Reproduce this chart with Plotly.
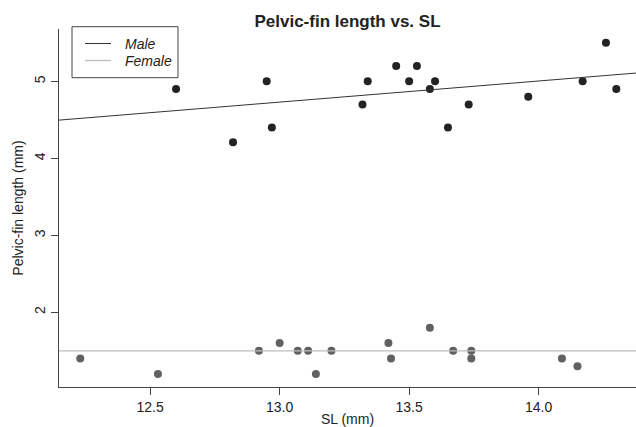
import numpy as np
import plotly.graph_objects as go

# ---- data ----
male_sl = [12.60, 12.82, 12.95, 12.97, 13.32, 13.34, 13.45, 13.50, 13.53,
           13.58, 13.60, 13.65, 13.73, 13.96, 14.17, 14.26, 14.30]
male_pfl = [4.9, 4.21, 5.0, 4.4, 4.7, 5.0, 5.2, 5.0, 5.2,
            4.9, 5.0, 4.4, 4.7, 4.8, 5.0, 5.5, 4.9]
female_sl = [12.23, 12.53, 12.92, 13.00, 13.07, 13.11, 13.14, 13.20,
             13.42, 13.43, 13.58, 13.67, 13.74, 13.74, 14.09, 14.15]
female_pfl = [1.4, 1.2, 1.5, 1.6, 1.5, 1.5, 1.2, 1.5,
              1.6, 1.4, 1.8, 1.5, 1.5, 1.4, 1.4, 1.3]
female_level = 1.5  # horizontal reference line for females (read)

legend_labels = ["Male", "Female"]
x_ticks = [12.5, 13.0, 13.5, 14.0]
x_tick_labels = ["12.5", "13.0", "13.5", "14.0"]
y_ticks = [2, 3, 4, 5]
y_tick_labels = ["2", "3", "4", "5"]
x_range = [12.148, 14.376]
y_range = [1.03, 5.68]

FONT = "Liberation Sans, Arial, Helvetica, sans-serif"
MALE_LINE = "#333333"
FEMALE_LINE = "#bdbdbd"

W, H = 636, 427
ML, MR, MT, MB = 59, 0, 29, 40
PW, PH = W - ML - MR, H - MT - MB


def px_x(p):
    return (p - ML) / PW


def px_y(p):
    return (H - MB - p) / PH


# male regression line (least squares fit of the male data)
slope, intercept = np.polyfit(male_sl, male_pfl, 1)
line_x = np.array(x_range)
male_line_y = intercept + slope * line_x
female_line_y = np.full_like(line_x, female_level)

fig = go.Figure()
fig.add_trace(go.Scatter(x=male_sl, y=male_pfl, mode="markers", showlegend=False,
                         marker=dict(color="#232323", size=8, line=dict(width=0))))
fig.add_trace(go.Scatter(x=female_sl, y=female_pfl, mode="markers", showlegend=False,
                         marker=dict(color="#616161", size=8, line=dict(width=0))))
fig.add_trace(go.Scatter(x=line_x, y=male_line_y, mode="lines", name=legend_labels[0],
                         showlegend=False, line=dict(color=MALE_LINE, width=1)))
fig.add_trace(go.Scatter(x=line_x, y=female_line_y, mode="lines", name=legend_labels[1],
                         showlegend=False, line=dict(color=FEMALE_LINE, width=1.3)))

axis_common = dict(showgrid=False, zeroline=False, showline=True, linecolor="#444444",
                   linewidth=1, ticks="outside", ticklen=7, tickwidth=1, tickcolor="#444444",
                   automargin=False,
                   tickfont=dict(family=FONT, size=14, color="#222222"))

# legend box drawn in the style of R's legend()
shapes = [dict(type="rect", xref="paper", yref="paper",
               x0=px_x(72), x1=px_x(178), y0=px_y(26.7), y1=px_y(77.7),
               line=dict(color="#444444", width=1), fillcolor="white", layer="above")]
annotations = []
for i, (lab, col) in enumerate(zip(legend_labels, [MALE_LINE, FEMALE_LINE])):
    yy = 43.5 + 17 * i
    shapes.append(dict(type="line", xref="paper", yref="paper",
                       x0=px_x(85), x1=px_x(111), y0=px_y(yy), y1=px_y(yy),
                       line=dict(color=col, width=1.3 if i else 1), layer="above"))
    annotations.append(dict(text=f"<i>{lab}</i>", xref="paper", yref="paper",
                            x=px_x(123), y=px_y(yy), xanchor="left", yanchor="middle",
                            showarrow=False,
                            font=dict(family=FONT, size=14, color="#222222")))

fig.update_layout(
    width=W, height=H,
    margin=dict(l=ML, r=MR, t=MT, b=MB),
    paper_bgcolor="white", plot_bgcolor="white",
    font=dict(family=FONT, size=14, color="#222222"),
    title=dict(text="<b>Pelvic-fin length vs. SL</b>", x=(ML + W) / 2 / W, xanchor="center",
               y=1 - 21 / H, yanchor="middle",
               font=dict(family=FONT, size=17, color="#222222")),
    xaxis=dict(range=x_range, tickvals=x_ticks, ticktext=x_tick_labels,
               title=dict(text="SL (mm)", font=dict(family=FONT, size=14), standoff=3),
               **axis_common),
    yaxis=dict(range=y_range, tickvals=y_ticks, ticktext=y_tick_labels, tickangle=-90,
               title=dict(text="Pelvic-fin length (mm)", font=dict(family=FONT, size=14), standoff=5),
               **axis_common),
    shapes=shapes,
    annotations=annotations,
    showlegend=False,
)

fig.write_html("out.html", config={"displayModeBar": False},
               post_script="document.body.style.margin='0';document.body.style.overflow='hidden';")
